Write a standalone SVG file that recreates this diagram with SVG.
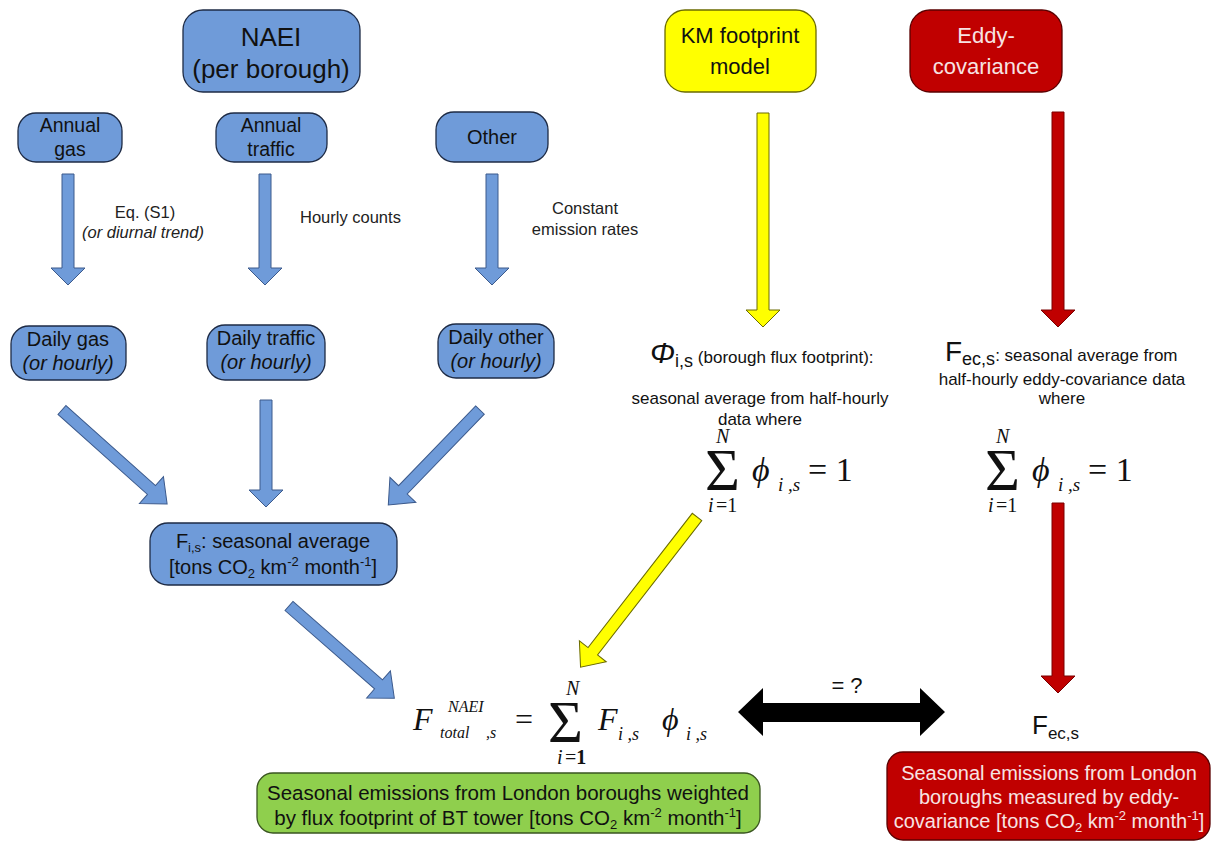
<svg xmlns="http://www.w3.org/2000/svg" width="1213" height="841" viewBox="0 0 1213 841">
<style>
.b{fill:#6f9bd9;stroke:#1e2b45;stroke-width:1.3}
.y{fill:#ffff00;stroke:#6b6b00;stroke-width:1.3}
.r{fill:#c00000;stroke:#5a0000;stroke-width:1.3}
.g{fill:#8fcf4d;stroke:#3a5520;stroke-width:1.3}
.ab{fill:#6f9bd9;stroke:#3c5a8c;stroke-width:1}
.ay{fill:#ffff00;stroke:#6b6b00;stroke-width:1}
.ar{fill:#c00000;stroke:#7a0000;stroke-width:1}
.ak{fill:#000}
text{font-family:"Liberation Sans",Arial,sans-serif}
.t{fill:#111;text-anchor:middle}
.tw{fill:#f7e3e3;text-anchor:middle}
.lbl{fill:#222;font-size:16.5px}
.m{font-family:"Liberation Serif","Times New Roman",serif;fill:#111}
.mi{font-family:"Liberation Serif","Times New Roman",serif;font-style:italic;fill:#111}
</style>
<rect width="1213" height="841" fill="#fff"/>

<g id="connectors">
  <polygon class="ab" points="62,174 74,174 74,268 85,268 68,285 51,268 62,268"/>
  <polygon class="ab" points="259,174 271,174 271,268 282,268 265,285 248,268 259,268"/>
  <polygon class="ab" points="486,174 498,174 498,268 509,268 492,285 475,268 486,268"/>
  <polygon class="ab" points="260,400 272,400 272,490 283,490 266,507 249,490 260,490"/>
  <polygon class="ab" transform="translate(62,410) rotate(41.8)" points="0,-6 120,-6 120,-18 141,0 120,18 120,6 0,6"/>
  <polygon class="ab" transform="translate(480,410) rotate(134)" points="0,-6 111,-6 111,-18 132,0 111,18 111,6 0,6"/>
  <polygon class="ab" transform="translate(289,606) rotate(41.2)" points="0,-6 119,-6 119,-18 140,0 119,18 119,6 0,6"/>
  <polygon class="ay" points="757,113 769,113 769,310 780,310 763,327 746,310 757,310"/>
  <polygon class="ay" transform="translate(697,517) rotate(127.8)" points="0,-6 170,-6 170,-17 190,0 170,17 170,6 0,6"/>
  <polygon class="ar" points="1052,112 1064,112 1064,310 1075,310 1058,327 1041,310 1052,310"/>
  <polygon class="ar" points="1052,503 1064,503 1064,676 1075,676 1058,693 1041,676 1052,676"/>
  <polygon class="ak" points="738,712 763,688 763,703 920,703 920,688 945,712 920,736 920,722 763,722 763,736"/>
  <text x="847" y="693" text-anchor="middle" font-size="22" fill="#111">= ?</text>
</g>

<g id="naei">
  <rect class="b" x="183" y="10" width="177" height="82" rx="20"/>
  <text class="t" x="271" y="46" font-size="26">NAEI</text>
  <text class="t" x="271" y="78" font-size="26">(per borough)</text>
</g>
<g id="km">
  <rect class="y" x="665" y="10" width="151" height="82" rx="20"/>
  <text class="t" x="740" y="43" font-size="22">KM footprint</text>
  <text class="t" x="740" y="74" font-size="22">model</text>
</g>
<g id="eddy">
  <rect class="r" x="910" y="10" width="152" height="82" rx="20"/>
  <text class="tw" x="986" y="43" font-size="22">Eddy-</text>
  <text class="tw" x="986" y="74" font-size="22">covariance</text>
</g>

<g id="annual-gas">
  <rect class="b" x="18" y="113" width="104" height="49" rx="18"/>
  <text class="t" x="70" y="132" font-size="19.5">Annual</text>
  <text class="t" x="70" y="156" font-size="19.5">gas</text>
</g>
<g id="annual-traffic">
  <rect class="b" x="216" y="113" width="111" height="49" rx="18"/>
  <text class="t" x="271" y="132" font-size="19.5">Annual</text>
  <text class="t" x="271" y="156" font-size="19.5">traffic</text>
</g>
<g id="other">
  <rect class="b" x="436" y="112" width="112" height="50" rx="18"/>
  <text class="t" x="492" y="144" font-size="20">Other</text>
</g>

<g id="labels">
  <text class="lbl" x="145" y="218" text-anchor="middle">Eq. (S1)</text>
  <text class="lbl" x="143" y="238" text-anchor="middle" font-style="italic">(or diurnal trend)</text>
  <text class="lbl" x="300" y="223">Hourly counts</text>
  <text class="lbl" x="585" y="214" text-anchor="middle">Constant</text>
  <text class="lbl" x="585" y="235" text-anchor="middle">emission rates</text>
</g>

<g id="daily-gas">
  <rect class="b" x="11" y="326" width="115" height="54" rx="18"/>
  <text class="t" x="68" y="346" font-size="20">Daily gas</text>
  <text class="t" x="68" y="370" font-size="20" font-style="italic">(or hourly)</text>
</g>
<g id="daily-traffic">
  <rect class="b" x="207" y="325" width="118" height="55" rx="18"/>
  <text class="t" x="266" y="345" font-size="20">Daily traffic</text>
  <text class="t" x="266" y="369" font-size="20" font-style="italic">(or hourly)</text>
</g>
<g id="daily-other">
  <rect class="b" x="438" y="324" width="116" height="54" rx="18"/>
  <text class="t" x="496" y="344" font-size="20">Daily other</text>
  <text class="t" x="496" y="368" font-size="20" font-style="italic">(or hourly)</text>
</g>

<g id="fis">
  <rect class="b" x="150" y="523" width="247" height="62" rx="18"/>
  <text class="t" x="273" y="548" font-size="20">F<tspan font-size="13" dy="4">i,s</tspan><tspan dy="-4">: seasonal average</tspan></text>
  <text class="t" x="273" y="574" font-size="20">[tons CO<tspan font-size="13" dy="4">2</tspan><tspan dy="-4"> km</tspan><tspan font-size="13" dy="-8">-2</tspan><tspan dy="8"> month</tspan><tspan font-size="13" dy="-8">-1</tspan><tspan dy="8">]</tspan></text>
</g>

<g id="phi">
  <text x="650" y="363" font-size="17" fill="#111"><tspan font-size="30" font-style="italic">Φ</tspan><tspan font-size="18" dy="4">i,s</tspan><tspan dy="-4"> (borough flux footprint):</tspan></text>
  <text class="t" x="760" y="404" font-size="17">seasonal average from half-hourly</text>
  <text class="t" x="760" y="425" font-size="17">data where</text>
  <text class="mi" x="716" y="443" font-size="20">N</text>
  <text class="m" x="705" y="490" font-size="60">Σ</text>
  <text class="mi" x="708" y="512" font-size="20">i</text>
  <text class="m" x="716" y="512" font-size="20">=1</text>
  <text class="mi" x="752" y="481" font-size="34">ϕ</text>
  <text class="mi" x="778" y="491" font-size="19">i ,s</text>
  <text class="m" x="808" y="481" font-size="34">= 1</text>
</g>

<g id="fec">
  <text x="945" y="361" font-size="17" fill="#111"><tspan font-size="28">F</tspan><tspan font-size="18" dy="4">ec,s</tspan><tspan dy="-4">: seasonal average from</tspan></text>
  <text class="t" x="1062" y="385" font-size="17">half-hourly eddy-covariance data</text>
  <text class="t" x="1062" y="404" font-size="17">where</text>
  <text class="mi" x="996" y="443" font-size="20">N</text>
  <text class="m" x="985" y="490" font-size="60">Σ</text>
  <text class="mi" x="988" y="512" font-size="20">i</text>
  <text class="m" x="996" y="512" font-size="20">=1</text>
  <text class="mi" x="1032" y="481" font-size="34">ϕ</text>
  <text class="mi" x="1058" y="491" font-size="19">i ,s</text>
  <text class="m" x="1088" y="481" font-size="34">= 1</text>
</g>

<g id="total-formula">
  <text class="mi" x="413" y="730" font-size="32">F</text>
  <text class="mi" x="448" y="712" font-size="16">NAEI</text>
  <text class="mi" x="440" y="738" font-size="16">total</text>
  <text class="mi" x="486" y="738" font-size="16">,s</text>
  <text class="m" x="515" y="730" font-size="32">=</text>
  <text class="mi" x="566" y="695" font-size="20">N</text>
  <text class="m" x="548" y="742" font-size="60">Σ</text>
  <text class="mi" x="557" y="764" font-size="20">i</text>
  <text class="m" x="565" y="764" font-size="20">=<tspan font-weight="bold">1</tspan></text>
  <text class="mi" x="598" y="730" font-size="32">F</text>
  <text class="mi" x="618" y="740" font-size="18">i ,s</text>
  <text class="mi" x="662" y="730" font-size="32">ϕ</text>
  <text class="mi" x="686" y="740" font-size="18">i ,s</text>
</g>

<g id="fec-out">
  <text x="1032" y="734" font-size="26" fill="#111">F<tspan font-size="17" dy="5">ec,s</tspan></text>
</g>

<g id="green-box">
  <rect class="g" x="257" y="773" width="503" height="60" rx="16"/>
  <text class="t" x="508" y="800" font-size="20.5">Seasonal emissions from London boroughs weighted</text>
  <text class="t" x="508" y="825" font-size="20.5">by flux footprint of BT tower [tons CO<tspan font-size="13" dy="4">2</tspan><tspan dy="-4"> km</tspan><tspan font-size="13" dy="-8">-2</tspan><tspan dy="8"> month</tspan><tspan font-size="13" dy="-8">-1</tspan><tspan dy="8">]</tspan></text>
</g>

<g id="red-box">
  <rect class="r" x="887" y="752" width="323" height="88" rx="16"/>
  <text class="tw" x="1049" y="780" font-size="20">Seasonal emissions from London</text>
  <text class="tw" x="1049" y="804" font-size="20">boroughs measured by eddy-</text>
  <text class="tw" x="1049" y="828" font-size="20">covariance [tons CO<tspan font-size="13" dy="4">2</tspan><tspan dy="-4"> km</tspan><tspan font-size="13" dy="-8">-2</tspan><tspan dy="8"> month</tspan><tspan font-size="13" dy="-8">-1</tspan><tspan dy="8">]</tspan></text>
</g>
</svg>
